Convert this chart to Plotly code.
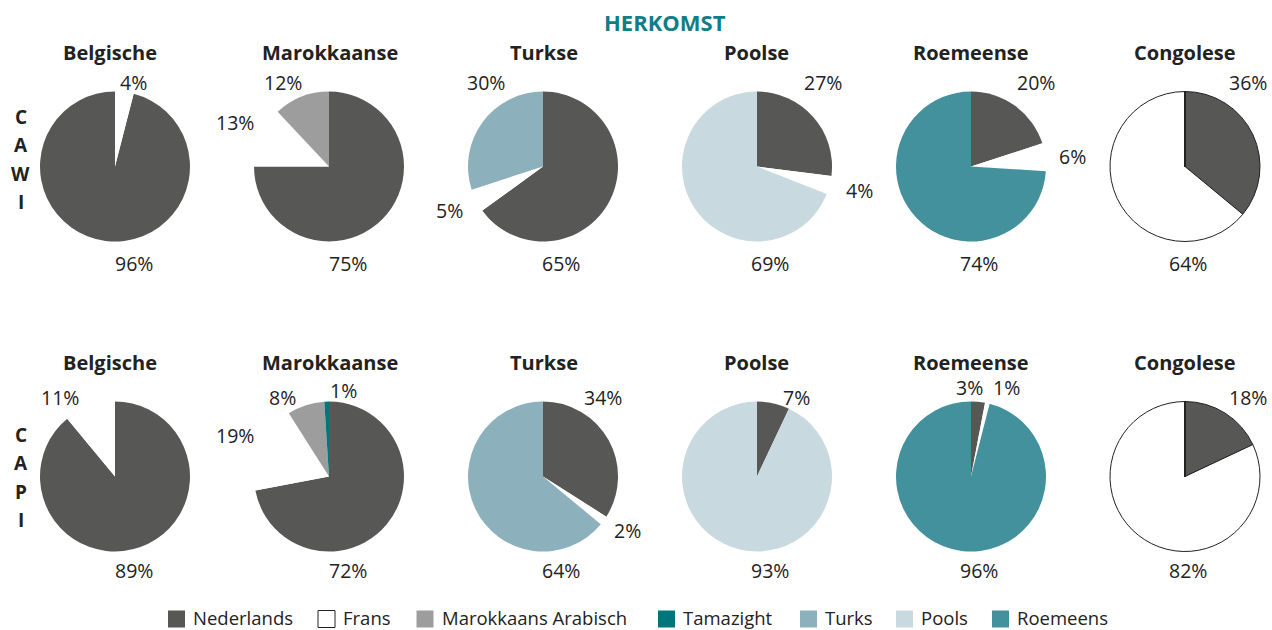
import plotly.graph_objects as go

# ---------------- data ----------------
languages = ["Nederlands", "Frans", "Marokkaans Arabisch", "Tamazight", "Turks", "Pools", "Roemeens"]
origins = ["Belgische", "Marokkaanse", "Turkse", "Poolse", "Roemeense", "Congolese"]
modes = ["CAWI", "CAPI"]
chart_title = "HERKOMST"

# percentages, in the order of `languages`
cawi_belgische = [96, 4, 0, 0, 0, 0, 0]
cawi_marokkaanse = [75, 13, 12, 0, 0, 0, 0]
cawi_turkse = [65, 5, 0, 0, 30, 0, 0]
cawi_poolse = [27, 4, 0, 0, 0, 69, 0]
cawi_roemeense = [20, 6, 0, 0, 0, 0, 74]
cawi_congolese = [36, 64, 0, 0, 0, 0, 0]

capi_belgische = [89, 11, 0, 0, 0, 0, 0]
capi_marokkaanse = [72, 19, 8, 1, 0, 0, 0]
capi_turkse = [34, 2, 0, 0, 64, 0, 0]
capi_poolse = [7, 0, 0, 0, 0, 93, 0]
capi_roemeense = [3, 1, 0, 0, 0, 0, 96]
capi_congolese = [18, 82, 0, 0, 0, 0, 0]

rows = [
    [cawi_belgische, cawi_marokkaanse, cawi_turkse, cawi_poolse, cawi_roemeense, cawi_congolese],
    [capi_belgische, capi_marokkaanse, capi_turkse, capi_poolse, capi_roemeense, capi_congolese],
]

# ---------------- styles / layout ----------------
W, H = 1272, 630
colors = ["#575756", "#ffffff", "#9d9d9d", "#00767c", "#8cb1bd", "#c8d9df", "#44919e"]
text_color = "#222222"
title_color = "#117d84"
FONT = "Open Sans"

pie_cx = [115, 329, 543, 757, 971, 1185]
pie_cy = [166.5, 476.5]
pie_r = 75
rotations = [[14.4, 0, 0, 0, 0, 0], [0, 0, 0, 0, 0, 0]]
outlined = [False, False, False, False, False, True]
title_dx = [-5, 1, 1, 0, 0, 0]
title_dy = -114

# label offsets (px from pie centre) for each non-zero slice, in language order
label_offsets = [
    [
        [(18.5, 96.5), (18, -83.5)],
        [(19, 96.5), (-94, -43.5), (-46, -83.5)],
        [(18, 96.5), (-94, 44), (-57.5, -83.5)],
        [(66, -83.5), (102, 23.5), (12.5, 96.5)],
        [(65, -83.5), (101.5, -10.5), (8, 96.5)],
        [(63, -83.5), (3, 96.5)],
    ],
    [
        [(18.5, 93.5), (-54.7, -79)],
        [(19, 93.5), (-94, -41), (-46.5, -79), (14.5, -86)],
        [(59.7, -79.5), (84.5, 54), (18, 93.5)],
        [(39, -79.5), (12.5, 93.5)],
        [(-2, -89), (35, -89), (7.5, 93.5)],
        [(63, -79), (3, 93.5)],
    ],
]

row_letter_x = 20.5
row_letter_y0 = [116.5, 434.5]
row_letter_step = 28.5

legend_box_x = [168, 318, 416.5, 658, 800, 896, 992]
legend_box = 17
legend_cy = 617.5


def px(x):
    return x / W


def py(y):
    return 1 - y / H


fig = go.Figure()
annotations = []
shapes = []

for ri, row in enumerate(rows):
    for ci, vals in enumerate(row):
        cx, cy = pie_cx[ci], pie_cy[ri]
        line_w = 1 if outlined[ci] else 0
        fig.add_trace(go.Pie(
            labels=languages,
            values=vals,
            sort=False,
            direction="clockwise",
            rotation=rotations[ri][ci],
            marker=dict(colors=colors, line=dict(color="#222222", width=line_w)),
            textinfo="none",
            hovertemplate="%{label}: %{value}%<extra>" + origins[ci] + " " + modes[ri] + "</extra>",
            showlegend=False,
            domain=dict(x=[px(cx - pie_r), px(cx + pie_r)], y=[py(cy + pie_r), py(cy - pie_r)]),
        ))
        # value labels
        k = 0
        for li, v in enumerate(vals):
            if v == 0:
                continue
            dx, dy = label_offsets[ri][ci][k]
            k += 1
            annotations.append(dict(
                x=px(cx + dx), y=py(cy + dy), xref="paper", yref="paper",
                text=f"{v}%", showarrow=False, xanchor="center", yanchor="middle",
                font=dict(family=FONT, size=19.5, color=text_color),
            ))
        # pie title
        annotations.append(dict(
            x=px(cx + title_dx[ci]), y=py(cy + title_dy), xref="paper", yref="paper",
            text=origins[ci], showarrow=False, xanchor="center", yanchor="middle",
            font=dict(family=FONT, size=20, color=text_color, weight="bold"),
        ))
    # vertical row label
    for k, ch in enumerate(modes[ri]):
        annotations.append(dict(
            x=px(row_letter_x), y=py(row_letter_y0[ri] + k * row_letter_step),
            xref="paper", yref="paper", text=ch, showarrow=False,
            xanchor="center", yanchor="middle",
            font=dict(family=FONT, size=19, color=text_color, weight="bold"),
        ))

# chart title
annotations.append(dict(
    x=px(665), y=py(22.5), xref="paper", yref="paper", text=chart_title,
    showarrow=False, xanchor="center", yanchor="middle",
    font=dict(family=FONT, size=22, color=title_color, weight="bold"),
))

# legend (drawn manually)
for i, lang in enumerate(languages):
    bx = legend_box_x[i]
    shapes.append(dict(
        type="rect", xref="paper", yref="paper",
        x0=px(bx), x1=px(bx + legend_box),
        y0=py(legend_cy + 1.5 + legend_box / 2), y1=py(legend_cy + 1.5 - legend_box / 2),
        fillcolor=colors[i],
        line=dict(color="#222222", width=1 if lang == "Frans" else 0),
    ))
    annotations.append(dict(
        x=px(bx + legend_box + 6), y=py(legend_cy), xref="paper", yref="paper",
        text=lang, showarrow=False, xanchor="left", yanchor="middle",
        font=dict(family=FONT, size=18.5, color=text_color),
    ))

fig.update_layout(
    width=W, height=H,
    margin=dict(l=0, r=0, t=0, b=0),
    paper_bgcolor="white", plot_bgcolor="white",
    annotations=annotations, shapes=shapes,
    showlegend=False,
)

fig.write_html(
    "out.html",
    config={"displayModeBar": False},
    post_script="document.body.style.margin='0';document.body.style.overflow='hidden';",
)
